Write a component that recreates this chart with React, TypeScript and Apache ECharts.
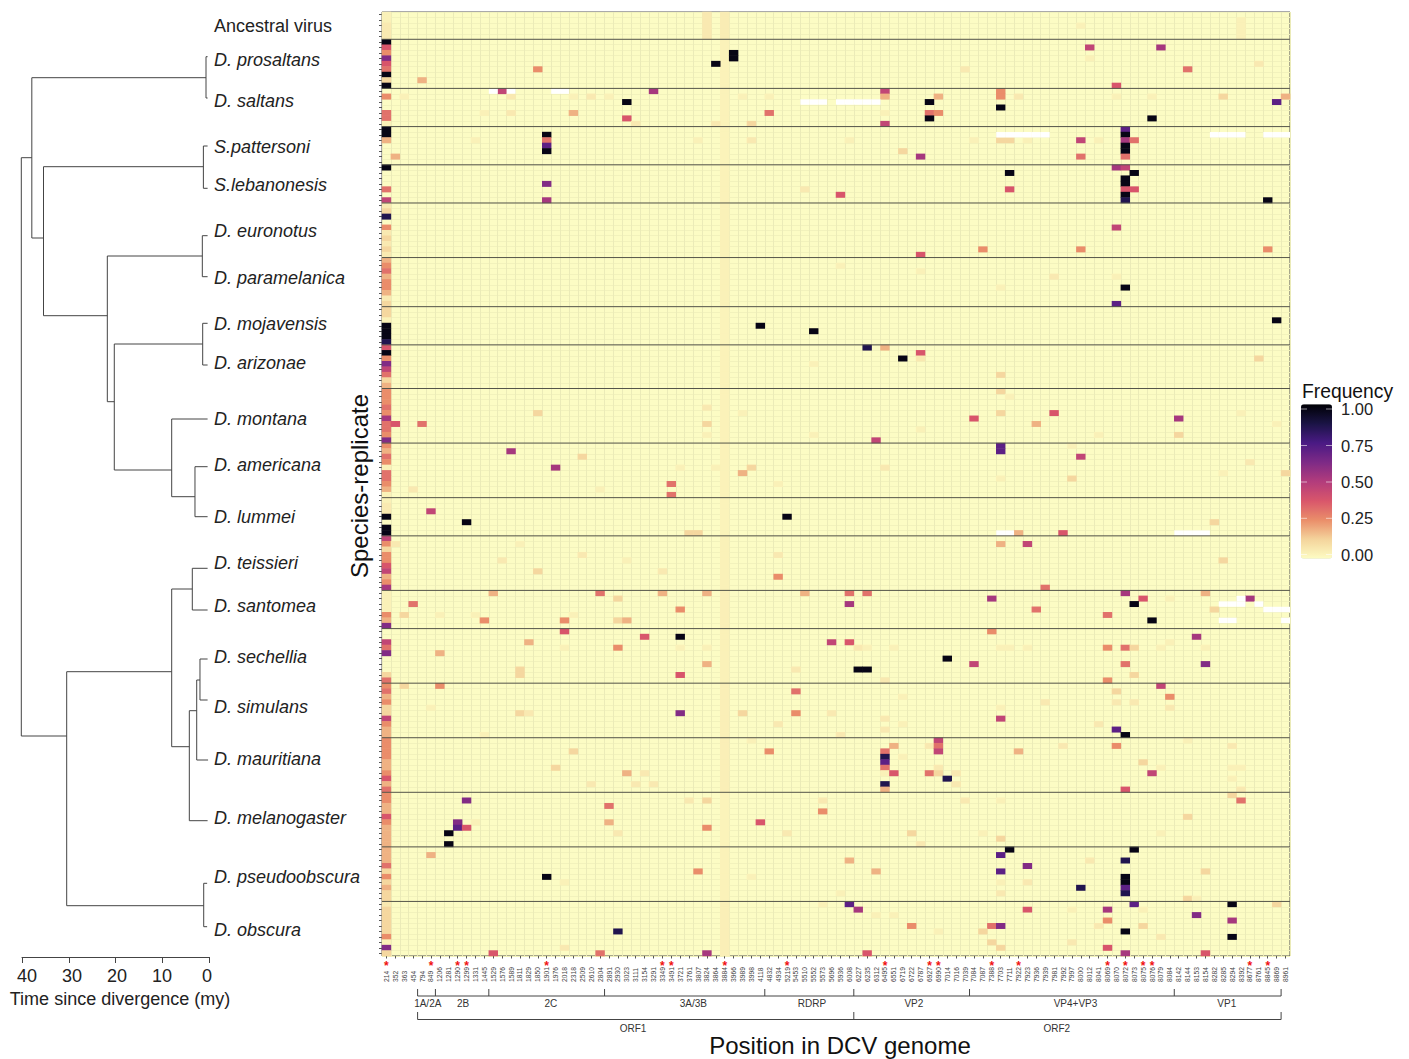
import React, { useEffect, useRef } from "react";
import * as echarts from "echarts";

// Frequency levels
const A = 0.005, B = 0.03, C = 0.09, D = 0.165, E = 0.235, F = 0.3, G = 0.37, H = 0.45, I = 0.53, J = 0.62, K = 0.72, L = 0.88, M = 1;

const positions = ["214","352","363","454","794","849","1206","1281","1290","1299","1331","1445","1529","1576","1589","1811","1829","1850","1901","1976","2018","2318","2509","2610","2804","2891","2930","3023","3111","3154","3291","3349","3491","3721","3761","3807","3824","3864","3884","3966","3989","3998","4118","4832","4934","5219","5453","5510","5552","5573","5696","5936","6008","6227","6235","6312","6495","6551","6719","6722","6787","6927","6990","7014","7016","7039","7084","7087","7388","7703","7711","7922","7923","7936","7939","7981","7992","7997","8000","8012","8041","8069","8070","8072","8073","8075","8076","8079","8084","8142","8144","8153","8154","8282","8285","8294","8392","8677","8761","8845","8869","8961"];
const starred = ["214","849","1290","1299","1901","3349","3491","3884","5219","6495","6927","6990","7388","7922","8069","8072","8075","8076","8677","8845"];

const groupSizes = [5,9,7,7,7,10,9,7,8,10,10,7,10,7,10,10,10,10,10,10];
const column3884Levels = [0.02,0.003,0.003,0,0.003,0.006,0.006,0,0.003,0.003,0.003,0,0.006,0.01,0.006,0.01,0.01,0,0.003,0.01];

const ancestral = [[0,0,A],[1,0,A],[2,0,B],[3,0,B],[4,0,B],[0,36,B],[1,36,B],[2,36,B],[3,36,B],[4,36,B],[1,96,A],[2,96,A],[3,96,A],[4,96,A],[2,78,A]];
const prosaltans = [[5,0,M],[6,0,G],[7,0,E],[8,0,J],[9,0,G],[10,0,F],[11,0,M],[12,0,C],[13,0,M],[10,17,E],[12,4,D],[7,39,M],[8,39,M],[9,37,M],[6,79,H],[6,87,I],[8,79,A],[9,98,B],[10,65,B],[10,90,F],[13,82,G]];
const saltans = [[14,13,H],[14,30,I],[14,56,H],[14,69,E],[15,0,E],[15,2,A],[15,14,B],[15,21,A],[15,23,B],[15,25,A],[15,40,A],[15,43,A],[15,56,D],[15,62,D],[15,69,E],[15,71,B],[15,82,A],[15,86,A],[15,94,C],[15,101,D],[16,27,M],[16,61,M],[16,100,K],[17,69,M],[18,0,F],[18,11,A],[18,14,B],[18,21,D],[18,43,F],[18,56,A],[18,61,F],[18,62,E],[19,0,F],[19,27,G],[19,61,M],[19,86,M],[20,0,A],[20,28,B],[20,37,B],[20,41,C],[20,56,H]];
const pattersoni = [[21,0,M],[22,0,M],[22,18,M],[23,0,D],[23,18,F],[23,10,A],[23,35,A],[23,41,B],[24,18,K],[25,18,M],[26,1,D],[21,83,K],[22,83,M],[23,52,A],[23,66,A],[23,69,C],[23,70,C],[23,72,A],[23,78,H],[23,80,A],[23,83,I],[23,84,F],[24,83,M],[25,58,C],[25,83,M],[26,60,I],[26,78,F],[26,83,F]];
const lebanonesis = [[28,0,M],[28,82,I],[28,83,H],[29,70,M],[29,84,M],[30,83,M],[31,18,J],[31,83,M],[32,0,F],[32,47,B],[32,70,G],[32,83,G],[32,84,G],[33,51,G],[33,83,M],[34,0,H],[34,18,I],[34,83,L],[34,99,M]];
const euronotus = [[35,0,B],[36,0,C],[37,0,L],[39,0,E],[40,0,B],[41,0,C],[42,0,B],[43,0,C],[44,0,B],[39,82,H],[43,67,E],[43,78,E],[43,99,E],[44,60,G]];
const paramelanica = [[45,0,D],[46,0,E],[47,0,F],[48,0,D],[49,0,E],[50,0,E],[51,0,D],[52,0,B],[53,0,C],[46,51,A],[47,60,A],[48,75,B],[48,82,A],[50,83,M],[50,69,A],[53,82,K]];
const mojavensis = [[54,0,C],[55,0,C],[56,0,A],[57,0,M],[57,42,M],[58,0,M],[58,48,M],[59,0,M],[60,0,L],[56,100,M]];
const arizonae = [[61,0,G],[61,54,L],[61,56,D],[62,0,M],[62,60,G],[63,0,E],[63,58,M],[63,60,B],[63,98,C],[64,0,J],[64,48,A],[65,0,H],[66,0,F],[66,69,C],[67,0,C],[68,0,D]];
const montana = [[69,0,E],[69,69,C],[70,0,E],[70,70,A],[71,0,E],[72,0,F],[72,36,B],[73,0,E],[73,17,C],[73,40,A],[73,69,C],[73,75,G],[73,96,A],[74,0,I],[74,66,G],[74,89,I],[75,0,F],[75,1,G],[75,4,F],[75,36,C],[75,73,D],[75,100,A],[76,0,F],[76,60,A],[77,0,E],[77,36,A],[77,48,A],[77,80,A],[77,89,C],[78,0,J],[78,55,H]];
const americana = [[79,0,E],[79,69,K],[79,77,A],[80,0,D],[80,14,I],[80,69,K],[81,0,F],[81,22,C],[81,78,H],[82,0,E],[82,97,B],[83,0,A],[83,19,I],[83,33,A],[83,37,A],[83,41,C],[83,56,B],[84,0,F],[84,40,D],[84,94,A],[84,101,C],[85,0,F],[85,69,A],[85,77,C],[86,0,E],[86,32,F],[86,44,A],[87,0,D],[87,3,B],[87,24,A],[88,0,A],[88,32,F]];
const lummei = [[89,0,A],[90,0,B],[91,0,B],[91,5,H],[92,0,M],[92,45,M],[93,9,M],[93,93,C],[94,0,M],[95,0,M],[95,34,C],[95,35,C],[95,71,D],[95,76,G]];
const teissieri = [[96,0,H],[97,0,E],[97,1,B],[97,15,A],[97,69,D],[97,72,H],[98,0,C],[99,0,E],[99,22,B],[99,44,B],[100,0,E],[100,13,B],[100,27,A],[100,94,C],[101,0,G],[102,0,H],[102,17,C],[102,31,B],[103,0,D],[103,44,E],[104,0,E],[105,0,I],[105,74,F]];
const santomea = [[106,0,A],[106,12,D],[106,24,F],[106,31,D],[106,36,D],[106,47,D],[106,52,F],[106,54,F],[106,83,I],[106,92,D],[107,0,A],[107,26,C],[107,68,I],[107,85,G],[107,88,A],[107,97,I],[108,0,A],[108,3,F],[108,52,I],[108,84,M],[109,0,A],[109,33,E],[109,73,F],[109,93,C],[110,0,E],[110,2,C],[110,6,A],[110,10,A],[110,21,A],[110,81,F],[111,0,D],[111,11,E],[111,20,E],[111,26,C],[111,27,D],[111,86,M],[112,0,J]];
const sechellia = [[113,20,G],[113,68,E],[114,29,G],[114,33,M],[114,91,I],[115,0,H],[115,16,D],[115,50,H],[115,52,G],[115,88,A],[116,0,F],[116,20,A],[116,26,E],[116,33,A],[116,36,A],[116,53,B],[116,54,A],[116,57,A],[116,69,A],[116,70,A],[116,72,A],[116,81,E],[116,83,F],[116,84,C],[116,87,A],[116,92,A],[117,0,J],[117,6,D],[118,63,M],[119,36,D],[119,66,H],[119,83,F],[119,92,J],[120,15,C],[120,46,B],[120,53,M],[120,54,M],[121,0,C],[121,15,C],[121,33,G],[121,84,C],[122,0,F],[122,56,B],[122,81,E]];
const simulans = [[123,0,E],[123,2,C],[123,6,E],[123,87,H],[124,0,F],[124,46,F],[124,82,C],[125,0,D],[125,58,A],[125,88,E],[126,0,E],[126,74,B],[126,82,B],[126,84,B],[127,0,C],[127,5,A],[127,69,A],[127,88,B],[128,0,C],[128,15,C],[128,16,B],[128,33,J],[128,40,C],[128,46,E],[128,50,B],[129,0,H],[129,56,B],[129,69,H],[130,0,E],[130,44,B],[130,58,A],[130,80,B],[131,0,D],[131,56,B],[131,82,K],[132,0,D],[132,11,A],[132,51,B],[132,83,M]];
const mauritiana = [[133,0,E],[133,41,A],[133,62,H],[133,90,A],[134,0,E],[134,57,D],[134,61,B],[134,62,F],[134,76,B],[134,82,E],[134,95,B],[135,0,E],[135,21,C],[135,43,E],[135,56,F],[135,62,H],[135,71,D],[136,0,E],[136,56,L],[136,58,A],[137,0,D],[137,56,K],[137,85,C],[138,0,D],[138,19,C],[138,56,F],[138,62,B],[138,87,A],[138,95,A],[138,96,A],[139,0,E],[139,27,D],[139,29,B],[139,56,A],[139,57,G],[139,61,F],[139,62,C],[139,64,B],[139,86,H],[140,0,G],[140,63,L],[140,95,A],[141,0,D],[141,23,B],[141,28,B],[141,30,B],[141,56,L],[141,64,B],[142,0,F],[142,56,D],[142,83,G],[142,96,B]];
const melanogaster = [[143,0,E],[143,95,C],[144,0,E],[144,9,J],[144,34,B],[144,36,C],[144,49,B],[144,65,B],[144,69,A],[144,96,F],[145,0,D],[145,25,F],[146,0,D],[146,49,E],[147,0,G],[147,90,C],[148,0,E],[148,8,J],[148,10,A],[148,25,D],[148,42,G],[149,0,D],[149,8,K],[149,9,G],[149,36,E],[150,0,D],[150,7,M],[150,26,B],[150,45,B],[150,59,C],[150,67,A],[150,87,A],[151,0,D],[151,69,C],[152,0,D],[152,7,M],[152,60,B]];
const pseudoobscura = [[153,0,D],[153,70,M],[153,84,M],[154,0,D],[154,5,D],[154,69,K],[155,0,D],[155,52,D],[155,79,B],[155,83,L],[156,0,F],[156,72,J],[157,0,C],[157,35,E],[157,55,D],[157,69,K],[157,92,C],[158,0,E],[158,18,M],[158,41,A],[158,83,M],[159,0,C],[159,20,A],[159,69,A],[159,72,B],[159,83,M],[160,0,D],[160,78,L],[160,83,K],[161,0,C],[161,51,A],[161,69,B],[161,83,L],[162,0,C],[162,90,C],[162,91,A]];
const obscura = [[163,0,B],[163,49,A],[163,52,K],[163,84,K],[163,95,M],[163,100,C],[164,0,C],[164,53,I],[164,72,G],[164,77,A],[164,81,I],[164,85,A],[165,0,C],[165,55,A],[165,57,A],[165,91,J],[166,0,C],[166,81,E],[166,95,I],[167,0,C],[167,59,E],[167,68,F],[167,69,J],[167,80,B],[167,85,C],[168,0,C],[168,26,L],[168,62,A],[168,67,C],[168,83,M],[169,0,E],[169,87,B],[169,95,M],[170,0,A],[170,68,C],[170,77,B],[171,0,J],[171,20,B],[171,69,C],[171,81,G],[172,0,C],[172,12,G],[172,24,F],[172,36,I],[172,54,G],[172,83,I],[172,92,G]];

// Cells without data (column, row)
const missingCells = [[12,14],[14,14],[19,14],[20,14],[47,16],[48,16],[49,16],[51,16],[52,16],[53,16],[54,16],[55,16],[69,22],[70,22],[71,22],[72,22],[73,22],[74,22],[93,22],[94,22],[95,22],[96,22],[99,22],[100,22],[101,22],[69,95],[70,95],[89,95],[90,95],[91,95],[92,95],[96,107],[94,108],[95,108],[96,108],[98,108],[99,109],[100,109],[101,109],[94,111],[95,111],[101,111]];

// Phylogeny branches: [my start, tree position start, my end, tree position end]
const treeBranches = [
  [40.15,157.7,37.9,157.7],[40.15,157.7,40.15,736],[40.15,736,30.44,736],
  [37.9,77.7,37.9,238],[37.9,77.7,0.64,77.7],[0.64,56.7,0.64,98],[0.64,56.7,0.3,56.7],[0.64,98,0.3,98],
  [37.9,238,35.4,238],[35.4,166.7,35.4,315.7],[35.4,166.7,1.2,166.7],[1.2,146,1.2,188.3],[1.2,146,0.3,146],[1.2,188.3,0.3,188.3],
  [35.4,315.7,21.75,315.7],[21.75,256,21.75,401.7],[21.75,256,1.43,256],[1.43,235.7,1.43,276.7],[1.43,235.7,0.3,235.7],[1.43,276.7,0.3,276.7],
  [21.75,401.7,20.26,401.7],[20.26,344,20.26,470],[20.26,344,1.35,344],[1.35,323.3,1.35,365],[1.35,323.3,0.3,323.3],[1.35,365,0.3,365],
  [20.26,470,7.98,470],[7.98,419,7.98,496.7],[7.98,419,0.3,419],[7.98,496.7,3,496.7],[3,466.7,3,516.7],[3,466.7,0.3,466.7],[3,516.7,0.3,516.7],
  [30.44,671.7,30.44,905.7],[30.44,671.7,7.98,671.7],[7.98,589,7.98,746.7],[7.98,589,3.57,589],[3.57,568.3,3.57,610],[3.57,568.3,0.3,568.3],[3.57,610,0.3,610],
  [7.98,746.7,4.21,746.7],[4.21,710.7,4.21,820.7],[4.21,820.7,0.3,820.7],[4.21,710.7,2.63,710.7],[2.63,680,2.63,760],[2.63,760,0.2,760],[2.63,680,1.93,680],
  [1.93,659,1.93,700],[1.93,659,0.3,659],[1.93,700,0.3,700],
  [30.44,905.7,1.13,905.7],[1.13,883.3,1.13,926.7],[1.13,883.3,0.4,883.3],[1.13,926.7,0.4,926.7],
];

const speciesNames = ["D. prosaltans","D. saltans","S.pattersoni","S.lebanonesis","D. euronotus","D. paramelanica","D. mojavensis","D. arizonae","D. montana","D. americana","D. lummei","D. teissieri","D. santomea","D. sechellia","D. simulans","D. mauritiana","D. melanogaster","D. pseudoobscura","D. obscura"];
const speciesLabelY = [60,101,146.7,185,230.7,277.7,324,362.7,419,465,517.3,563,606,657,707,759,818,877,930];

const geneNames = ["1A/2A","2B","2C","3A/3B","RDRP","VP2","VP4+VP3","VP1"];
const geneEdges = [4,6,12,25,43,53,66,89,101];
const geneLabelCols = [5.14,9.1,18.96,34.98,48.3,59.75,77.9,94.9];
const orfNames = ["ORF1","ORF2"];
const orfEdges = [4,53,101];
const orfLabelCols = [28.2,75.8];
const legendTicks = ["1.00","0.75","0.50","0.25","0.00"];
const legendTickY = [409,445.5,482,518.3,554.5];

const PANEL = { left: 382, top: 12, width: 908, height: 944 };
const FONT = '"Liberation Sans", Arial, sans-serif';
const colX = (c: number) => PANEL.left + (c * PANEL.width) / positions.length;

function buildCells() {
  const groups = [ancestral,prosaltans,saltans,pattersoni,lebanonesis,euronotus,paramelanica,mojavensis,arizonae,montana,americana,lummei,teissieri,santomea,sechellia,simulans,mauritiana,melanogaster,pseudoobscura,obscura];
  const cells: number[][] = [];
  let start = 0;
  groupSizes.forEach((n, g) => {
    for (let r = start; r < start + n; r++) cells.push([38, r, column3884Levels[g]]);
    start += n;
  });
  groups.forEach((g) => g.forEach(([r, c, v]) => cells.push([c, r, v])));
  return cells;
}

function graphics() {
  const els: any[] = [];
  const txt = (x: number, y: number, text: string, font: string, align = "left", fill = "#222") =>
    els.push({ type: "text", x, y, silent: true, style: { text, font, fill, align, verticalAlign: "middle" } });
  const stroke = { stroke: "#444", lineWidth: 1 };
  txt(214, 26, "Ancestral virus", `18px ${FONT}`);
  speciesNames.forEach((n, i) => txt(214, speciesLabelY[i], n, `italic 18px ${FONT}`));
  const bracket = (edges: number[], y1: number, y2: number, names: string[], cols: number[], ty: number) => {
    els.push({ type: "polyline", silent: true, shape: { points: [[colX(edges[0]), y2], [colX(edges[edges.length - 1]), y2]] }, style: stroke });
    edges.forEach((e) => els.push({ type: "line", silent: true, shape: { x1: colX(e), y1, x2: colX(e), y2 }, style: stroke }));
    names.forEach((n, i) => txt(colX(cols[i]), ty, n, `10px ${FONT}`, "center", "#333"));
  };
  bracket(geneEdges, 989, 996, geneNames, geneLabelCols, 1003.5);
  bracket(orfEdges, 1012, 1019.5, orfNames, orfLabelCols, 1028);
  txt(1302, 391, "Frequency", `19.3px ${FONT}`, "left", "#111");
  legendTicks.forEach((t, i) => {
    txt(1341, legendTickY[i], t, `16.5px ${FONT}`, "left", "#222");
    els.push({ type: "line", z: 10, silent: true, shape: { x1: 1301, y1: legendTickY[i], x2: 1307, y2: legendTickY[i] }, style: { stroke: "#fff", lineWidth: 0.7, opacity: 0.8 } });
    els.push({ type: "line", z: 10, silent: true, shape: { x1: 1326, y1: legendTickY[i], x2: 1332, y2: legendTickY[i] }, style: { stroke: "#fff", lineWidth: 0.7, opacity: 0.8 } });
  });
  return els;
}

export default function App() {
  const ref = useRef<HTMLDivElement>(null);
  useEffect(() => {
    const chart = echarts.init(ref.current!, undefined, { renderer: "svg" });
    const rowNames: string[] = [];
    const separators: number[][] = [];
    let acc = 0;
    groupSizes.forEach((n, g) => {
      for (let i = 0; i < n; i++) rowNames.push(`g${g}-${i + 1}`);
      acc += n;
      if (acc < 173) separators.push([0, acc]);
    });
    chart.setOption({
      animation: false,
      backgroundColor: "#fff",
      grid: [
        { ...PANEL, show: true, backgroundColor: "#FCFCC4", borderColor: "#555", borderWidth: 1, outerBoundsMode: "none" },
        { left: 22, width: 187, top: 0, height: 957, outerBoundsMode: "none" },
        { left: 27, width: 180, top: 0, height: 957, outerBoundsMode: "none" },
      ],
      xAxis: [
        {
          type: "category", gridIndex: 0, data: positions, position: "bottom",
          name: "Position in DCV genome", nameLocation: "middle", nameGap: 77,
          nameTextStyle: { fontFamily: FONT, fontSize: 24, color: "#111", padding: [0, 0, 0, 8] },
          axisLine: { show: false, onZero: false },
          axisTick: { show: true, alignWithLabel: true, interval: 0, length: 2.5, lineStyle: { color: "#555" } },
          splitLine: { show: true, interval: 0, lineStyle: { color: "#EBEBB8", width: 1 } },
          axisLabel: { show: true, interval: 0, rotate: 90, align: "left", verticalAlign: "middle", margin: 26, fontFamily: FONT, fontSize: 6.7, color: "#444", hideOverlap: false },
        },
        {
          type: "category", gridIndex: 0, data: positions, position: "bottom",
          axisLine: { show: false, onZero: false }, axisTick: { show: false }, splitLine: { show: false },
          axisLabel: { show: true, interval: 0, margin: 4, fontFamily: FONT, fontSize: 12, fontWeight: "bold", color: "#F01010", hideOverlap: false,
            formatter: (v: string) => (starred.includes(v) ? "*" : "") },
        },
        {
          type: "value", gridIndex: 1, min: 0, max: 40, interval: 10, inverse: true, position: "bottom",
          axisLine: { show: true, onZero: false, lineStyle: { color: "#444" } },
          axisTick: { show: true, length: 6, lineStyle: { color: "#444" } },
          axisLabel: { show: false }, splitLine: { show: false },
        },
        {
          type: "value", gridIndex: 2, min: 0, max: 40, interval: 10, inverse: true, position: "bottom",
          name: "Time since divergence (my)", nameLocation: "middle", nameGap: 32,
          nameTextStyle: { fontFamily: FONT, fontSize: 18, color: "#222", padding: [0, 0, 0, 6] },
          axisLine: { show: false, onZero: false }, axisTick: { show: false }, splitLine: { show: false },
          axisLabel: { show: true, margin: 10, fontFamily: FONT, fontSize: 18, color: "#222" },
        },
      ],
      yAxis: [
        {
          type: "category", gridIndex: 0, data: rowNames, inverse: true,
          name: "Species-replicate", nameLocation: "middle", nameRotate: 90, nameGap: 11,
          nameTextStyle: { fontFamily: FONT, fontSize: 24, color: "#111", padding: [0, 4, 0, 0] },
          axisLine: { show: false, onZero: false },
          axisTick: { show: true, alignWithLabel: true, interval: 0, length: 3, lineStyle: { color: "#555" } },
          splitLine: { show: true, interval: 0, lineStyle: { color: "#F2F2BC", width: 1 } },
          axisLabel: { show: false },
        },
        { type: "value", gridIndex: 1, min: 0, max: 957, inverse: true, show: false },
        { type: "value", gridIndex: 2, min: 0, max: 957, inverse: true, show: false },
      ],
      visualMap: {
        type: "continuous", seriesIndex: 0, dimension: 2, min: -0.034, max: 1.034,
        left: 1301, top: 404.3, itemWidth: 31, itemHeight: 154.5, padding: 0, calculable: false, hoverLink: false,
        inRange: { color: ["#FDFDC4","#F4D49C","#EA8E6A","#D9566B","#B23C7C","#7D2A86","#4A1A84","#1A1445","#000004"] },
      },
      series: [
        { type: "heatmap", xAxisIndex: 0, yAxisIndex: 0, data: buildCells(), silent: true, itemStyle: { borderWidth: 0 }, emphasis: { disabled: true } },
        {
          type: "custom", xAxisIndex: 0, yAxisIndex: 0, data: missingCells, encode: { x: 0, y: 1 }, silent: true, z: 4,
          renderItem: (params: any, api: any) => {
            const p = api.coord([api.value(0), api.value(1)]);
            const s = api.size([1, 1]);
            return { type: "rect", shape: { x: p[0] - s[0] / 2, y: p[1] - s[1] / 2, width: s[0], height: s[1] }, style: { fill: "#FFFFFF" } };
          },
        },
        {
          type: "custom", xAxisIndex: 0, yAxisIndex: 0, data: separators, encode: { x: 0, y: 1 }, silent: true, z: 5, clip: false,
          renderItem: (params: any, api: any) => {
            const y = api.coord([0, api.value(1)])[1] - api.size([0, 1])[1] / 2;
            return { type: "line", shape: { x1: PANEL.left, y1: y, x2: PANEL.left + PANEL.width, y2: y }, style: { stroke: "#55554A", lineWidth: 1 } };
          },
        },
        {
          type: "custom", xAxisIndex: 2, yAxisIndex: 1, data: treeBranches, encode: { x: [0, 2], y: [1, 3] }, silent: true, clip: false,
          renderItem: (params: any, api: any) => {
            const a = api.coord([api.value(0), api.value(1)]);
            const b = api.coord([api.value(2), api.value(3)]);
            return { type: "line", shape: { x1: a[0], y1: a[1], x2: b[0], y2: b[1] }, style: { stroke: "#444", lineWidth: 1 } };
          },
        },
      ],
      graphic: graphics(),
    });
    return () => chart.dispose();
  }, []);
  return <div ref={ref} style={{ position: "absolute", left: 0, top: 0, width: 1409, height: 1059, background: "#fff" }} />;
}
